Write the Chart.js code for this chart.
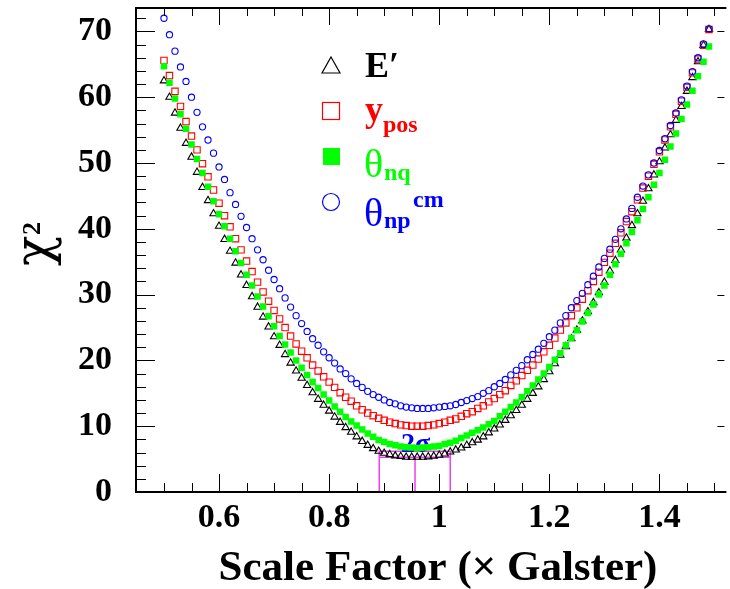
<!DOCTYPE html>
<html>
<head>
<meta charset="utf-8">
<script src="https://cdn.jsdelivr.net/npm/chart.js@4.4.1/dist/chart.umd.min.js"></script>
<style>
  html, body { margin: 0; padding: 0; background: #fff; }
  #wrap { width: 730px; height: 589px; }
</style>
</head>
<body>
<div id="wrap"><canvas id="chi2" width="730" height="589"></canvas></div>
<script>
// Scale factor (x Galster) scanned
const scaleFactor = [
  0.50, 0.51, 0.52, 0.53, 0.54, 0.55, 0.56, 0.57, 0.58, 0.59,
  0.60, 0.61, 0.62, 0.63, 0.64, 0.65, 0.66, 0.67, 0.68, 0.69,
  0.70, 0.71, 0.72, 0.73, 0.74, 0.75, 0.76, 0.77, 0.78, 0.79,
  0.80, 0.81, 0.82, 0.83, 0.84, 0.85, 0.86, 0.87, 0.88, 0.89,
  0.90, 0.91, 0.92, 0.93, 0.94, 0.95, 0.96, 0.97, 0.98, 0.99,
  1.00, 1.01, 1.02, 1.03, 1.04, 1.05, 1.06, 1.07, 1.08, 1.09,
  1.10, 1.11, 1.12, 1.13, 1.14, 1.15, 1.16, 1.17, 1.18, 1.19,
  1.20, 1.21, 1.22, 1.23, 1.24, 1.25, 1.26, 1.27, 1.28, 1.29,
  1.30, 1.31, 1.32, 1.33, 1.34, 1.35, 1.36, 1.37, 1.38, 1.39,
  1.40, 1.41, 1.42, 1.43, 1.44, 1.45, 1.46, 1.47, 1.48, 1.49
];

// chi^2 for each variable
const chiEprime = [
  62.5, 60.0, 57.6, 55.3, 53.0, 50.9, 48.6, 46.3, 44.3, 42.3,
  40.4, 38.4, 36.6, 34.8, 33.0, 31.4, 29.7, 28.1, 26.6, 25.1,
  23.6, 22.3, 20.9, 19.6, 18.4, 17.3, 16.2, 15.1, 14.1, 13.2,
  12.3, 11.4, 10.6, 9.8, 9.1, 8.4, 7.7, 7.1, 6.6, 6.2,
  5.9, 5.7, 5.5, 5.4, 5.3, 5.3, 5.3, 5.3, 5.35, 5.45,
  5.6, 5.8, 6.1, 6.4, 6.7, 7.1, 7.5, 7.9, 8.4, 9.0,
  9.6, 10.2, 10.9, 11.6, 12.4, 13.2, 14.1, 15.0, 16.0, 17.1,
  18.3, 19.5, 20.8, 22.1, 23.3, 24.6, 26.0, 27.4, 28.8, 30.3,
  31.9, 33.6, 35.2, 36.8, 38.6, 40.5, 42.3, 44.2, 46.1, 48.2,
  50.2, 52.3, 54.3, 56.5, 58.6, 60.9, 63.0, 65.4, 67.9, 70.3
];
const chiYpos = [
  65.6, 63.3, 60.9, 58.6, 56.3, 54.1, 52.0, 49.9, 47.9, 45.9,
  43.9, 42.0, 40.3, 38.5, 36.8, 35.1, 33.5, 31.9, 30.4, 29.0,
  27.6, 26.3, 25.0, 23.7, 22.5, 21.4, 20.4, 19.3, 18.4, 17.5,
  16.7, 15.9, 15.1, 14.4, 13.8, 13.1, 12.5, 12.0, 11.6, 11.2,
  10.9, 10.6, 10.4, 10.2, 10.1, 10.0, 10.0, 10.0, 10.1, 10.2,
  10.4, 10.6, 10.9, 11.1, 11.5, 11.9, 12.2, 12.7, 13.1, 13.7,
  14.2, 14.8, 15.4, 16.2, 16.9, 17.7, 18.5, 19.3, 20.2, 21.3,
  22.3, 23.4, 24.6, 25.7, 26.8, 28.0, 29.3, 30.6, 32.0, 33.4,
  34.9, 36.3, 37.8, 39.4, 41.1, 42.6, 44.4, 46.2, 48.0, 49.8,
  51.7, 53.5, 55.5, 57.4, 59.4, 61.5, 63.7, 65.8, 67.9, 70.3
];
const chiThetaNq = [
  64.7, 62.2, 59.8, 57.4, 55.2, 52.8, 50.6, 48.5, 46.4, 44.2,
  42.2, 40.4, 38.5, 36.6, 34.8, 33.0, 31.4, 29.7, 28.2, 26.7,
  25.2, 23.7, 22.4, 21.2, 20.0, 18.9, 17.8, 16.7, 15.8, 14.8,
  13.9, 13.0, 12.2, 11.4, 10.7, 10.1, 9.5, 8.9, 8.4, 7.9,
  7.6, 7.3, 7.1, 6.9, 6.8, 6.75, 6.7, 6.75, 6.8, 6.9,
  7.0, 7.3, 7.5, 7.8, 8.2, 8.6, 9.0, 9.4, 9.8, 10.3,
  10.8, 11.5, 12.2, 12.9, 13.6, 14.4, 15.3, 16.2, 17.1, 18.0,
  19.0, 20.1, 21.1, 22.3, 23.4, 24.6, 25.9, 27.2, 28.5, 30.0,
  31.4, 33.0, 34.6, 36.2, 37.8, 39.5, 41.3, 43.0, 44.8, 46.7,
  48.5, 50.5, 52.5, 54.5, 56.7, 58.9, 61.0, 63.2, 65.4, 67.7
];
const chiThetaNpCm = [
  72.0, 69.5, 67.0, 64.6, 62.4, 60.0, 57.7, 55.5, 53.5, 51.5,
  49.4, 47.5, 45.5, 43.7, 41.9, 40.2, 38.5, 36.8, 35.3, 33.7,
  32.3, 30.9, 29.5, 28.1, 26.8, 25.6, 24.4, 23.3, 22.3, 21.3,
  20.4, 19.6, 18.7, 18.0, 17.2, 16.5, 15.9, 15.3, 14.8, 14.4,
  14.0, 13.6, 13.4, 13.1, 12.9, 12.8, 12.7, 12.7, 12.7, 12.8,
  12.9, 13.0, 13.1, 13.3, 13.6, 13.9, 14.2, 14.5, 15.0, 15.4,
  16.0, 16.5, 17.1, 17.8, 18.5, 19.2, 20.1, 20.9, 21.7, 22.6,
  23.6, 24.6, 25.7, 26.8, 28.0, 29.1, 30.2, 31.5, 32.8, 34.2,
  35.5, 36.9, 38.4, 40.0, 41.5, 43.1, 44.8, 46.5, 48.2, 50.0,
  51.9, 53.7, 55.7, 57.6, 59.6, 61.7, 63.9, 66.0, 68.1, 70.4
];

// Axis labels
const xTickLabels = [0.6, 0.8, 1, 1.2, 1.4];
const yTickLabels = [0, 10, 20, 30, 40, 50, 60, 70];

// 2 sigma band on E' : low edge, best, high edge ; and chi2 levels
const twoSigmaX = [0.891, 0.956, 1.020];
const twoSigmaChi = [5.3, 6.2];

const SERIF = '"Liberation Serif", "Times New Roman", serif';
const GREEN = '#00ff00';

function toPoints(ys) {
  return ys.map((y, i) => ({ x: scaleFactor[i], y: y }));
}

// Frame, inward ticks, legend and titles (ROOT style)
const rootStyle = {
  id: 'rootStyle',
  beforeDatasetsDraw(chart) {
    const ctx = chart.ctx;
    const xs = chart.scales.x, ys = chart.scales.y;
    const x0 = xs.getPixelForValue(twoSigmaX[0]);
    const xm = xs.getPixelForValue(twoSigmaX[1]);
    const x1 = xs.getPixelForValue(twoSigmaX[2]);
    const yLow = ys.getPixelForValue(twoSigmaChi[0]);
    const yHigh = ys.getPixelForValue(twoSigmaChi[1]);
    const yZero = ys.getPixelForValue(0);
    ctx.save();
    ctx.strokeStyle = '#f040f0';
    ctx.lineWidth = 1.5;
    ctx.beginPath();
    ctx.moveTo(x0, yZero); ctx.lineTo(x0, yHigh); ctx.lineTo(x1, yHigh); ctx.lineTo(x1, yZero);
    ctx.moveTo(xm, yZero); ctx.lineTo(xm, yLow);
    ctx.moveTo(x0, yLow); ctx.lineTo(x1, yLow);
    ctx.stroke();

    ctx.fillStyle = '#0000ff';
    ctx.font = 'bold 28px ' + SERIF;
    ctx.textBaseline = 'alphabetic';
    ctx.fillText('2σ', 401, 452);
    ctx.restore();
  },
  afterDraw(chart) {
    const ctx = chart.ctx;
    const a = chart.chartArea;
    const xs = chart.scales.x, ys = chart.scales.y;
    ctx.save();

    // ticks
    ctx.strokeStyle = '#000';
    ctx.lineWidth = 1;
    ctx.beginPath();
    for (let k = 10; k <= 30; k++) {
      const v = k * 0.05;
      const px = Math.round(xs.getPixelForValue(v)) + 0.5;
      const major = xTickLabels.some(t => Math.abs(t - v) < 1e-6);
      const len = major ? 18 : 9;
      ctx.moveTo(px, a.bottom); ctx.lineTo(px, a.bottom - len);
      ctx.moveTo(px, a.top); ctx.lineTo(px, a.top + (major ? 17 : 8));
    }
    for (let v = 0; v <= 72; v += 2) {
      const py = Math.round(ys.getPixelForValue(v)) + 0.5;
      const major = v % 10 === 0;
      ctx.moveTo(a.left, py); ctx.lineTo(a.left + (major ? 18 : 9), py);
      if (major) { ctx.moveTo(a.right, py); ctx.lineTo(a.right - 7, py); }
    }
    ctx.stroke();

    // frame
    ctx.lineWidth = 2;
    ctx.beginPath();
    ctx.moveTo(a.right + 2, a.top);
    ctx.lineTo(a.left - 1, a.top);
    ctx.lineTo(a.left - 1, a.bottom);
    ctx.lineTo(a.right + 2, a.bottom);
    ctx.stroke();

    // axis titles
    ctx.fillStyle = '#000';
    ctx.textBaseline = 'alphabetic';
    ctx.textAlign = 'center';
    ctx.font = 'bold 43px ' + SERIF;
    ctx.fillText('Scale Factor (× Galster)', 438, 580);

    ctx.save();
    ctx.translate(50, 266);
    ctx.rotate(-Math.PI / 2);
    ctx.textAlign = 'left';
    ctx.font = '50px "DejaVu Serif", serif';
    ctx.fillText('χ', 0, 0);
    ctx.font = 'bold 26px ' + SERIF;
    ctx.fillText('2', 31, -10);
    ctx.restore();

    // legend markers
    ctx.lineWidth = 1.2;
    ctx.strokeStyle = '#000';
    ctx.beginPath();
    ctx.moveTo(331, 57); ctx.lineTo(340, 73); ctx.lineTo(322, 73); ctx.closePath();
    ctx.stroke();
    ctx.strokeStyle = '#ff0000';
    ctx.strokeRect(322.5, 102.5, 17, 17);
    ctx.fillStyle = GREEN;
    ctx.fillRect(323, 148, 17, 17);
    ctx.strokeStyle = '#0000ff';
    ctx.beginPath();
    ctx.arc(331, 202, 8.5, 0, Math.PI * 2);
    ctx.stroke();

    // legend text
    ctx.textAlign = 'left';
    ctx.fillStyle = '#000';
    ctx.font = 'bold 36px ' + SERIF;
    ctx.fillText('E′', 365, 77);

    ctx.fillStyle = '#ff0000';
    ctx.fillText('y', 365, 121);
    ctx.font = 'bold 24px ' + SERIF;
    ctx.fillText('pos', 383, 132);

    ctx.fillStyle = GREEN;
    ctx.font = '40px ' + SERIF;
    ctx.fillText('θ', 364, 177);
    ctx.font = 'bold 24px ' + SERIF;
    ctx.fillText('nq', 384, 180);

    ctx.fillStyle = '#0000ff';
    ctx.font = '40px ' + SERIF;
    ctx.fillText('θ', 364, 226);
    ctx.font = 'bold 24px ' + SERIF;
    ctx.fillText('np', 384, 228);
    ctx.fillText('cm', 413, 207);

    ctx.restore();
  }
};

const tickFont = { family: SERIF, size: 34, weight: 'bold' };

new Chart(document.getElementById('chi2'), {
  type: 'scatter',
  data: {
    datasets: [
      {
        label: "E'",
        data: toPoints(chiEprime),
        pointStyle: 'triangle',
        pointRadius: 4.2,
        borderColor: '#000000',
        backgroundColor: 'rgba(0,0,0,0)',
        borderWidth: 1.1,
        order: 3
      },
      {
        label: 'y_pos',
        data: toPoints(chiYpos),
        pointStyle: 'rect',
        pointRadius: 4.5,
        borderColor: '#ff0000',
        backgroundColor: 'rgba(0,0,0,0)',
        borderWidth: 1.1,
        order: 2
      },
      {
        label: 'theta_nq',
        data: toPoints(chiThetaNq),
        pointStyle: 'rect',
        pointRadius: 4.6,
        borderColor: GREEN,
        backgroundColor: GREEN,
        borderWidth: 0,
        order: 1
      },
      {
        label: 'theta_np^cm',
        data: toPoints(chiThetaNpCm),
        pointStyle: 'circle',
        pointRadius: 3.1,
        borderColor: '#0000ff',
        backgroundColor: 'rgba(0,0,0,0)',
        borderWidth: 1.1,
        order: 0
      }
    ]
  },
  options: {
    responsive: false,
    animation: false,
    devicePixelRatio: 1,
    events: [],
    layout: { padding: { left: 0, right: 0, top: 8, bottom: 0 } },
    plugins: {
      legend: { display: false },
      tooltip: { enabled: false }
    },
    scales: {
      x: {
        type: 'linear',
        min: 0.451,
        max: 1.518,
        grid: { display: false, drawTicks: false },
        border: { display: false },
        ticks: {
          font: tickFont,
          color: '#000',
          padding: 6,
          autoSkip: false,
          maxRotation: 0,
          callback: v => String(v)
        },
        afterBuildTicks: s => { s.ticks = xTickLabels.map(v => ({ value: v })); },
        afterFit: s => { s.height = 97; s.paddingLeft = 0; s.paddingRight = 0; }
      },
      y: {
        type: 'linear',
        min: 0,
        max: 73.56,
        grid: { display: false, drawTicks: false },
        border: { display: false },
        ticks: {
          font: tickFont,
          color: '#000',
          padding: 25,
          autoSkip: false,
          callback: v => String(v)
        },
        afterBuildTicks: s => { s.ticks = yTickLabels.map(v => ({ value: v })); },
        afterFit: s => { s.width = 137; s.paddingTop = 0; s.paddingBottom = 0; }
      }
    }
  },
  plugins: [rootStyle]
});
</script>
</body>
</html>
